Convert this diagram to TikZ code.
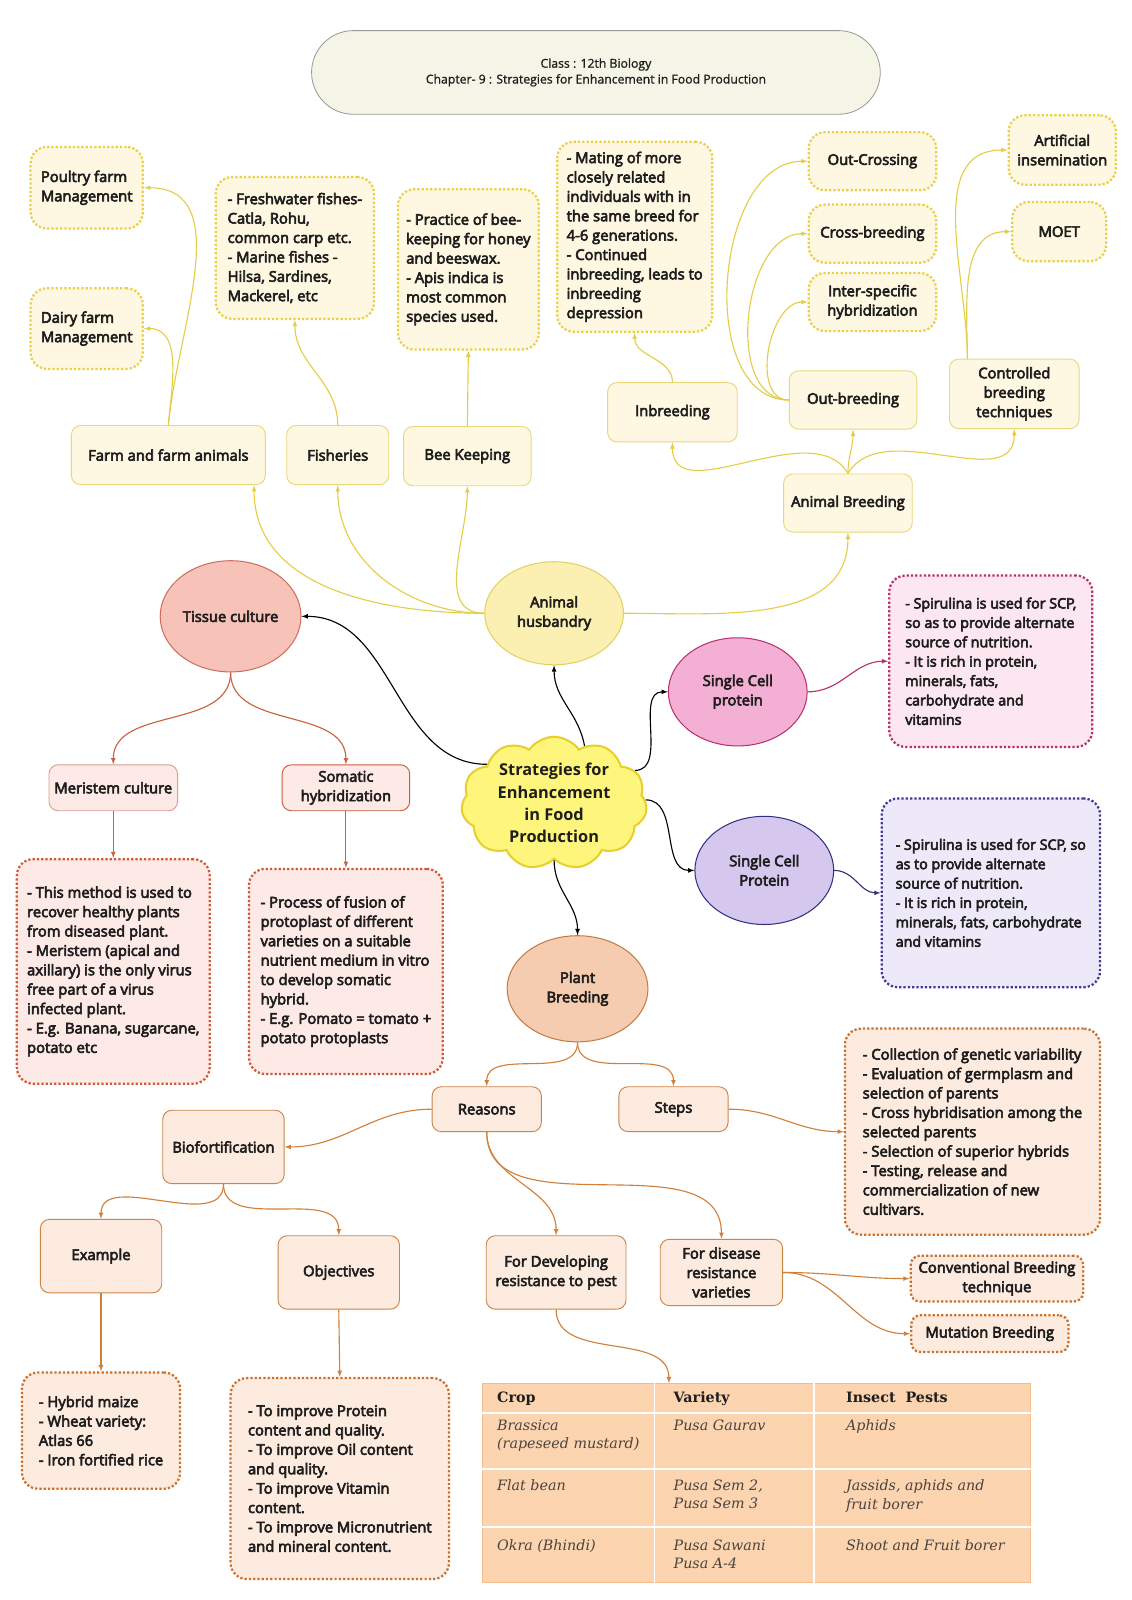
\documentclass[tikz,border=0pt]{standalone}
\usepackage{fontspec}
\setmainfont{Open Sans}
\newfontfamily\osb{Open Sans}[FakeBold=4]
\newfontfamily\osr{Open Sans}[FakeBold=1]
\newfontfamily\serif{DejaVu Serif}
\usetikzlibrary{shapes.geometric, shapes.symbols, shapes.misc}

\definecolor{encre}{HTML}{1E1E1E}
\definecolor{jbord}{HTML}{E9D77A}
\definecolor{jpoint}{HTML}{EBCF45}
\definecolor{jfond}{HTML}{FEF8E2}
\definecolor{jfleche}{HTML}{E6CD48}
\definecolor{ahfond}{HTML}{FCEFB2}
\definecolor{ahbord}{HTML}{E2D060}
\definecolor{tcfond}{HTML}{F7C2B7}
\definecolor{tcbord}{HTML}{CF6E5C}
\definecolor{rfond}{HTML}{FDE9E5}
\definecolor{rbord}{HTML}{D9A091}
\definecolor{rbord2}{HTML}{C95D3E}
\definecolor{rpoint}{HTML}{CD5A38}
\definecolor{rfleche}{HTML}{C8623F}
\definecolor{scpfond}{HTML}{F4AFD4}
\definecolor{scpbord}{HTML}{B8306F}
\definecolor{pfond}{HTML}{FCE6F0}
\definecolor{lavfond}{HTML}{D5C7EE}
\definecolor{lavbord}{HTML}{303080}
\definecolor{lfond}{HTML}{EEE9F8}
\definecolor{lpoint}{HTML}{43389A}
\definecolor{pbfond}{HTML}{F5CCAF}
\definecolor{pbbord}{HTML}{C47B43}
\definecolor{ofond}{HTML}{FDEBDF}
\definecolor{obord}{HTML}{CC8448}
\definecolor{opoint}{HTML}{C9722E}
\definecolor{ofleche}{HTML}{D1803A}
\definecolor{nfond}{HTML}{FDF57C}
\definecolor{nbord}{HTML}{E9CF2C}
\definecolor{tfond}{HTML}{F4F5E7}
\definecolor{tabfond}{HTML}{FCD4AF}
\definecolor{tabbord}{HTML}{F2BC8C}
\definecolor{tabencre}{HTML}{4A4440}

\begin{document}
\begin{tikzpicture}[x=1pt, y=-1pt]
	\tikzset{txt/.style={font={\osb\fontsize{14.5}{19}\selectfont}, text=encre, align=center, inner sep=2pt},
		boite/.style={txt, rectangle, rounded corners=9pt, line width=0.9pt},
		pointille/.style={txt, rectangle, rounded corners=16pt, line width=2.2pt, dash pattern=on 2.2pt off 2pt},
		bulle/.style={txt, ellipse, inner sep=0pt, line width=1pt},
		jb/.style={boite, draw=jbord, fill=jfond}, jp/.style={pointille, draw=jpoint, fill=jfond},
		rb/.style={boite, draw=rbord, fill=rfond}, rp/.style={pointille, draw=rpoint, fill=rfond},
		orb/.style={boite, draw=obord, fill=ofond}, orp/.style={pointille, draw=opoint, fill=ofond},
		fleche/.style={>=latex, ->, line width=1.1pt},
		cel/.style={font={\serif\itshape\fontsize{14}{18}\selectfont}, text=tabencre, anchor=north west, align=left, inner sep=0pt},
		tete/.style={font={\serif\bfseries\fontsize{14}{18}\selectfont}, text=encre, anchor=north west, inner sep=0pt}};

	\fill[white] (0,0) rectangle (1109,1568);
	\useasboundingbox (0,0) rectangle (1109,1568);

	\node[rounded rectangle, draw=black!40, fill=tfond, line width=0.8pt, minimum width=564pt, minimum height=82pt, align=center, font={\osr\fontsize{12}{15.5}\selectfont}, text=encre] (titre) at (584,71) {Class : 12th Biology\\Chapter- 9 : Strategies for Enhancement in Food Production};

	\node[jp, align=left, minimum width=110pt, minimum height=80pt] (pfm) at ( 85,184) {Poultry farm\\Management};
	\node[jp, align=left, minimum width=110pt, minimum height=79pt] (dfm) at ( 85,322) {Dairy farm\\Management};
	\node[jp, align=left, minimum width=155pt, minimum height=139pt] (pois) at (289,243) {- Freshwater fishes-\\Catla, Rohu,\\common carp etc.\\- Marine fishes -\\Hilsa, Sardines,\\Mackerel, etc};
	\node[jp, align=left, minimum width=138pt, minimum height=157pt] (abe) at (459,264) {- Practice of bee-\\keeping for honey\\and beeswax.\\- Apis indica is\\most common\\species used.};
	\node[jp, align=left, minimum width=152pt, minimum height=186pt] (cons) at (622,232) {- Mating of more\\closely related\\individuals with in\\the same breed for\\4-6 generations.\\- Continued\\inbreeding, leads to\\inbreeding\\depression};
	\node[jp, minimum width=125pt, minimum height=57pt] (oc) at (855,158) {Out-Crossing};
	\node[jp, minimum width=125pt, minimum height=57pt] (cb) at (855,229) {Cross-breeding};
	\node[jp, minimum width=125pt, minimum height=57pt] (ish) at (855,296) {Inter-specific\\hybridization};
	\node[jp, minimum width=105pt, minimum height=68pt] (ai) at (1041,147) {Artificial\\insemination};
	\node[jp, minimum width=92pt, minimum height=58pt] (moet) at (1038,227) {MOET};

	\node[jb, minimum width=190pt, minimum height=58pt] (ffa) at (165,446) {Farm and farm animals};
	\node[jb, minimum width=100pt, minimum height=58pt] (fish) at (331,446) {Fisheries};
	\node[jb, minimum width=125pt, minimum height=58pt] (bk) at (458,447) {Bee Keeping};
	\node[jb, minimum width=127pt, minimum height=58pt] (inb) at (659,404) {Inbreeding};
	\node[jb, minimum width=125pt, minimum height=57pt] (outb) at (836,392) {Out-breeding};
	\node[jb, minimum width=127pt, minimum height=68pt] (cbt) at (994,386) {Controlled\\breeding\\techniques};
	\node[jb, minimum width=126pt, minimum height=57pt] (ab) at (831,493) {Animal Breeding};

	\node[bulle, draw=ahbord, fill=ahfond, minimum width=136pt, minimum height=101pt] (ah) at (543,601) {Animal\\husbandry};
	\node[bulle, draw=tcbord, fill=tcfond, minimum width=138pt, minimum height=109pt] (tc) at (226,604) {Tissue culture};
	\node[bulle, draw=scpbord, fill=scpfond, minimum width=136pt, minimum height=106pt] (scp1) at (723,678) {Single Cell\\protein};
	\node[bulle, draw=lavbord, fill=lavfond, minimum width=136pt, minimum height=106pt] (scp2) at (749,853) {Single Cell\\Protein};
	\node[bulle, draw=pbbord, fill=pbfond, minimum width=138pt, minimum height=104pt] (pb) at (566,969) {Plant\\Breeding};
	\node[cloud, cloud puffs=11, cloud puff arc=110, aspect=1.4, draw=nbord, fill=nfond, line width=2pt, inner sep=0pt, minimum width=182pt, minimum height=130pt, align=center, text=encre, font={\bfseries\fontsize{16}{22}\selectfont}] (sefp) at (543,787) {Strategies for\\Enhancement\\in Food\\Production};

	\node[pointille, draw=scpbord, fill=pfond, align=left, font={\osb\fontsize{14}{19}\selectfont}, minimum width=199pt, minimum height=168pt] (spi1) at (971,648) {- Spirulina is used for SCP,\\so as to provide alternate\\source of nutrition.\\- It is rich in protein,\\minerals, fats,\\carbohydrate and\\vitamins};
	\node[pointille, draw=lpoint, fill=lfond, align=left, font={\osb\fontsize{14}{19}\selectfont}, minimum width=214pt, minimum height=185pt] (spi2) at (971,875) {- Spirulina is used for SCP, so\\as to provide alternate\\source of nutrition.\\- It is rich in protein,\\minerals, fats, carbohydrate\\and vitamins};

	\node[rb, minimum width=126pt, minimum height=45pt] (mc) at (111,772) {Meristem culture};
	\node[rb, draw=rbord2, minimum width=125pt, minimum height=45pt] (sh) at (339,772) {Somatic\\hybridization};
	\node[rp, align=left, minimum width=189pt, minimum height=220pt] (mct) at (111,952) {- This method is used to\\recover healthy plants\\from diseased plant.\\- Meristem (apical and\\axillary) is the only virus\\free part of a virus\\infected plant.\\- E.g. Banana, sugarcane,\\potato etc};
	\node[rp, align=left, minimum width=190pt, minimum height=201pt] (sht) at (339,952) {- Process of fusion of\\protoplast of different\\varieties on a suitable\\nutrient medium in vitro\\to develop somatic\\hybrid.\\- E.g. Pomato = tomato +\\potato protoplasts};

	\node[orb, minimum width=107pt, minimum height=44pt] (rs) at (477,1087) {Reasons};
	\node[orb, minimum width=107pt, minimum height=44pt] (st) at (660,1087) {Steps};
	\node[orp, align=left, minimum width=250pt, minimum height=202pt] (stt) at (953,1109) {- Collection of genetic variability\\- Evaluation of germplasm and\\selection of parents\\- Cross hybridisation among the\\selected parents\\- Selection of superior hybrids\\- Testing, release and\\commercialization of new\\cultivars.};
	\node[orb, minimum width=119pt, minimum height=72pt] (bf) at (219,1124) {Biofortification};
	\node[orb, minimum width=119pt, minimum height=72pt] (ex) at ( 99,1231) {Example};
	\node[orb, minimum width=119pt, minimum height=72pt] (obj) at (332,1247) {Objectives};
	\node[orp, align=left, minimum width=155pt, minimum height=114pt] (ext) at ( 99,1402) {- Hybrid maize\\- Wheat variety:\\Atlas 66\\- Iron fortified rice};
	\node[orp, align=left, minimum width=214pt, minimum height=197pt] (objt) at (333,1449) {- To improve Protein\\content and quality.\\- To improve Oil content\\and quality.\\- To improve Vitamin\\content.\\- To improve Micronutrient\\and mineral content.};
	\node[orb, minimum width=137pt, minimum height=72pt] (fdp) at (545,1247) {For Developing\\resistance to pest};
	\node[orb, minimum width=120pt, minimum height=65pt] (fdr) at (707,1247) {For disease\\resistance\\varieties};
	\node[orp, rounded corners=9pt, minimum width=169pt, minimum height=45pt] (cbt2) at (977,1253) {Conventional Breeding\\technique};
	\node[orp, rounded corners=9pt, minimum width=154pt, minimum height=36pt] (mb) at (970,1307) {Mutation Breeding};

	\node[draw=tabbord, fill=tabfond, line width=1pt, minimum width=537pt, minimum height=195pt, inner sep=0pt] (tab) at (741.5,1453.5) {};
	\draw[white, line width=1.6pt] ([xshift=169pt]tab.north west) -- ([xshift=169pt]tab.south west);
	\draw[white, line width=1.6pt] ([xshift=325pt]tab.north west) -- ([xshift=325pt]tab.south west);
	\draw[white, line width=1.6pt] ([yshift=-29pt]tab.north west) -- ([yshift=-29pt]tab.north east);
	\draw[white, line width=1.6pt] ([yshift=-84pt]tab.north west) -- ([yshift=-84pt]tab.north east);
	\draw[white, line width=1.6pt] ([yshift=-141pt]tab.north west) -- ([yshift=-141pt]tab.north east);
	\node[tete] (h1) at (487,1364) {Crop};
	\node[tete] (h2) at (660,1364) {Variety};
	\node[tete] (h3) at (829,1364) {Insect\ \ Pests};
	\node[cel] (c11) at (487,1391) {Brassica\\(rapeseed mustard)};
	\node[cel] (c12) at (660,1391) {Pusa Gaurav};
	\node[cel] (c13) at (829,1391) {Aphids};
	\node[cel] (c21) at (487,1450) {Flat bean};
	\node[cel] (c22) at (660,1450) {Pusa Sem 2,\\Pusa Sem 3};
	\node[cel] (c23) at (829,1450) {Jassids, aphids and\\fruit borer};
	\node[cel] (c31) at (487,1509) {Okra (Bhindi)};
	\node[cel] (c32) at (660,1509) {Pusa Sawani\\Pusa A-4};
	\node[cel] (c33) at (829,1509) {Shoot and Fruit borer};

	\draw[fleche, jfleche] (ah.west) to[out=180, in=-90] ([xshift=84pt]ffa.south);
	\draw[fleche, jfleche] (ah.west) to[out=180, in=-90] (fish.south);
	\draw[fleche, jfleche] (ah.west) to[out=180, in=-90] (bk.south);
	\draw[fleche, jfleche] (ah.east) to[out=  0, in=-90] (ab.south);
	\draw[fleche, jfleche] (ffa.north) to[out=85, in=0] (pfm.east);
	\draw[fleche, jfleche] (ffa.north) to[out=85, in=0] (dfm.east);
	\draw[fleche, jfleche] (fish.north) to[out=90, in=-90] (pois.south);
	\draw[fleche, jfleche] (bk.north) -- (abe.south);
	\draw[fleche, jfleche] (ab.north) to[out=120, in=-90] (inb.south);
	\draw[fleche, jfleche] (ab.north) to[out= 90, in=-90] (outb.south);
	\draw[fleche, jfleche] (ab.north) to[out= 60, in=-90] (cbt.south);
	\draw[fleche, jfleche] (inb.north) to[out=90, in=-90] (cons.south);
	\draw[fleche, jfleche] (outb.west) to[out=180, in=180] (oc.west);
	\draw[fleche, jfleche] (outb.west) to[out=180, in=180] (cb.west);
	\draw[fleche, jfleche] (outb.west) to[out=180, in=180] (ish.west);
	\draw[fleche, jfleche] ([xshift=-46pt]cbt.north) to[out=90, in=180] (ai.west);
	\draw[fleche, jfleche] ([xshift=-46pt]cbt.north) to[out=90, in=180] (moet.west);

	\draw[fleche] (sefp.150) to[out=180, in=  0] (tc.east);
	\draw[fleche] (sefp.62) to[out=100, in=-90] (ah.south);
	\draw[fleche] (sefp.22) to[out=  0, in=180] (scp1.west);
	\draw[fleche] (sefp.2) to[out=  0, in=180] (scp2.west);
	\draw[fleche] (sefp.south) to[out=-90, in=90] (pb.north);
	\draw[fleche, scpbord] (scp1.east) to[out=0, in=180] (spi1.west);
	\draw[fleche, lavbord] (scp2.east) to[out=0, in=180] (spi2.west);

	\draw[fleche, rfleche] (tc.south) to[out=-90, in=90] (mc.north);
	\draw[fleche, rfleche] (tc.south) to[out=-90, in=90] (sh.north);
	\draw[fleche, rfleche] (mc.south) -- (mct.north);
	\draw[fleche, rfleche] (sh.south) -- (sht.north);

	\draw[fleche, ofleche] (pb.south) to[out=-90, in=90] (rs.north);
	\draw[fleche, ofleche] (pb.south) to[out=-90, in=90] (st.north);
	\draw[fleche, ofleche] (st.east) to[out=0, in=180] (stt.west);
	\draw[fleche, ofleche] (rs.west) to[out=180, in=0] (bf.east);
	\draw[fleche, ofleche] (bf.south) to[out=-90, in=90] (ex.north);
	\draw[fleche, ofleche] (bf.south) to[out=-90, in=90] (obj.north);
	\draw[fleche, ofleche] (ex.south) -- (ext.north);
	\draw[fleche, ofleche] (obj.south) -- (objt.north);
	\draw[fleche, ofleche] (rs.south) to[out=-90, in=90] (fdp.north);
	\draw[fleche, ofleche] (rs.south) to[out=-90, in=90] (fdr.north);
	\draw[fleche, ofleche] (fdp.south) to[out=-90, in=90] ([xshift=-86pt]tab.north);
	\draw[fleche, ofleche] (fdr.east) to[out=0, in=180] (cbt2.west);
	\draw[fleche, ofleche] (fdr.east) to[out=0, in=180] (mb.west);

\end{tikzpicture}
\end{document}
